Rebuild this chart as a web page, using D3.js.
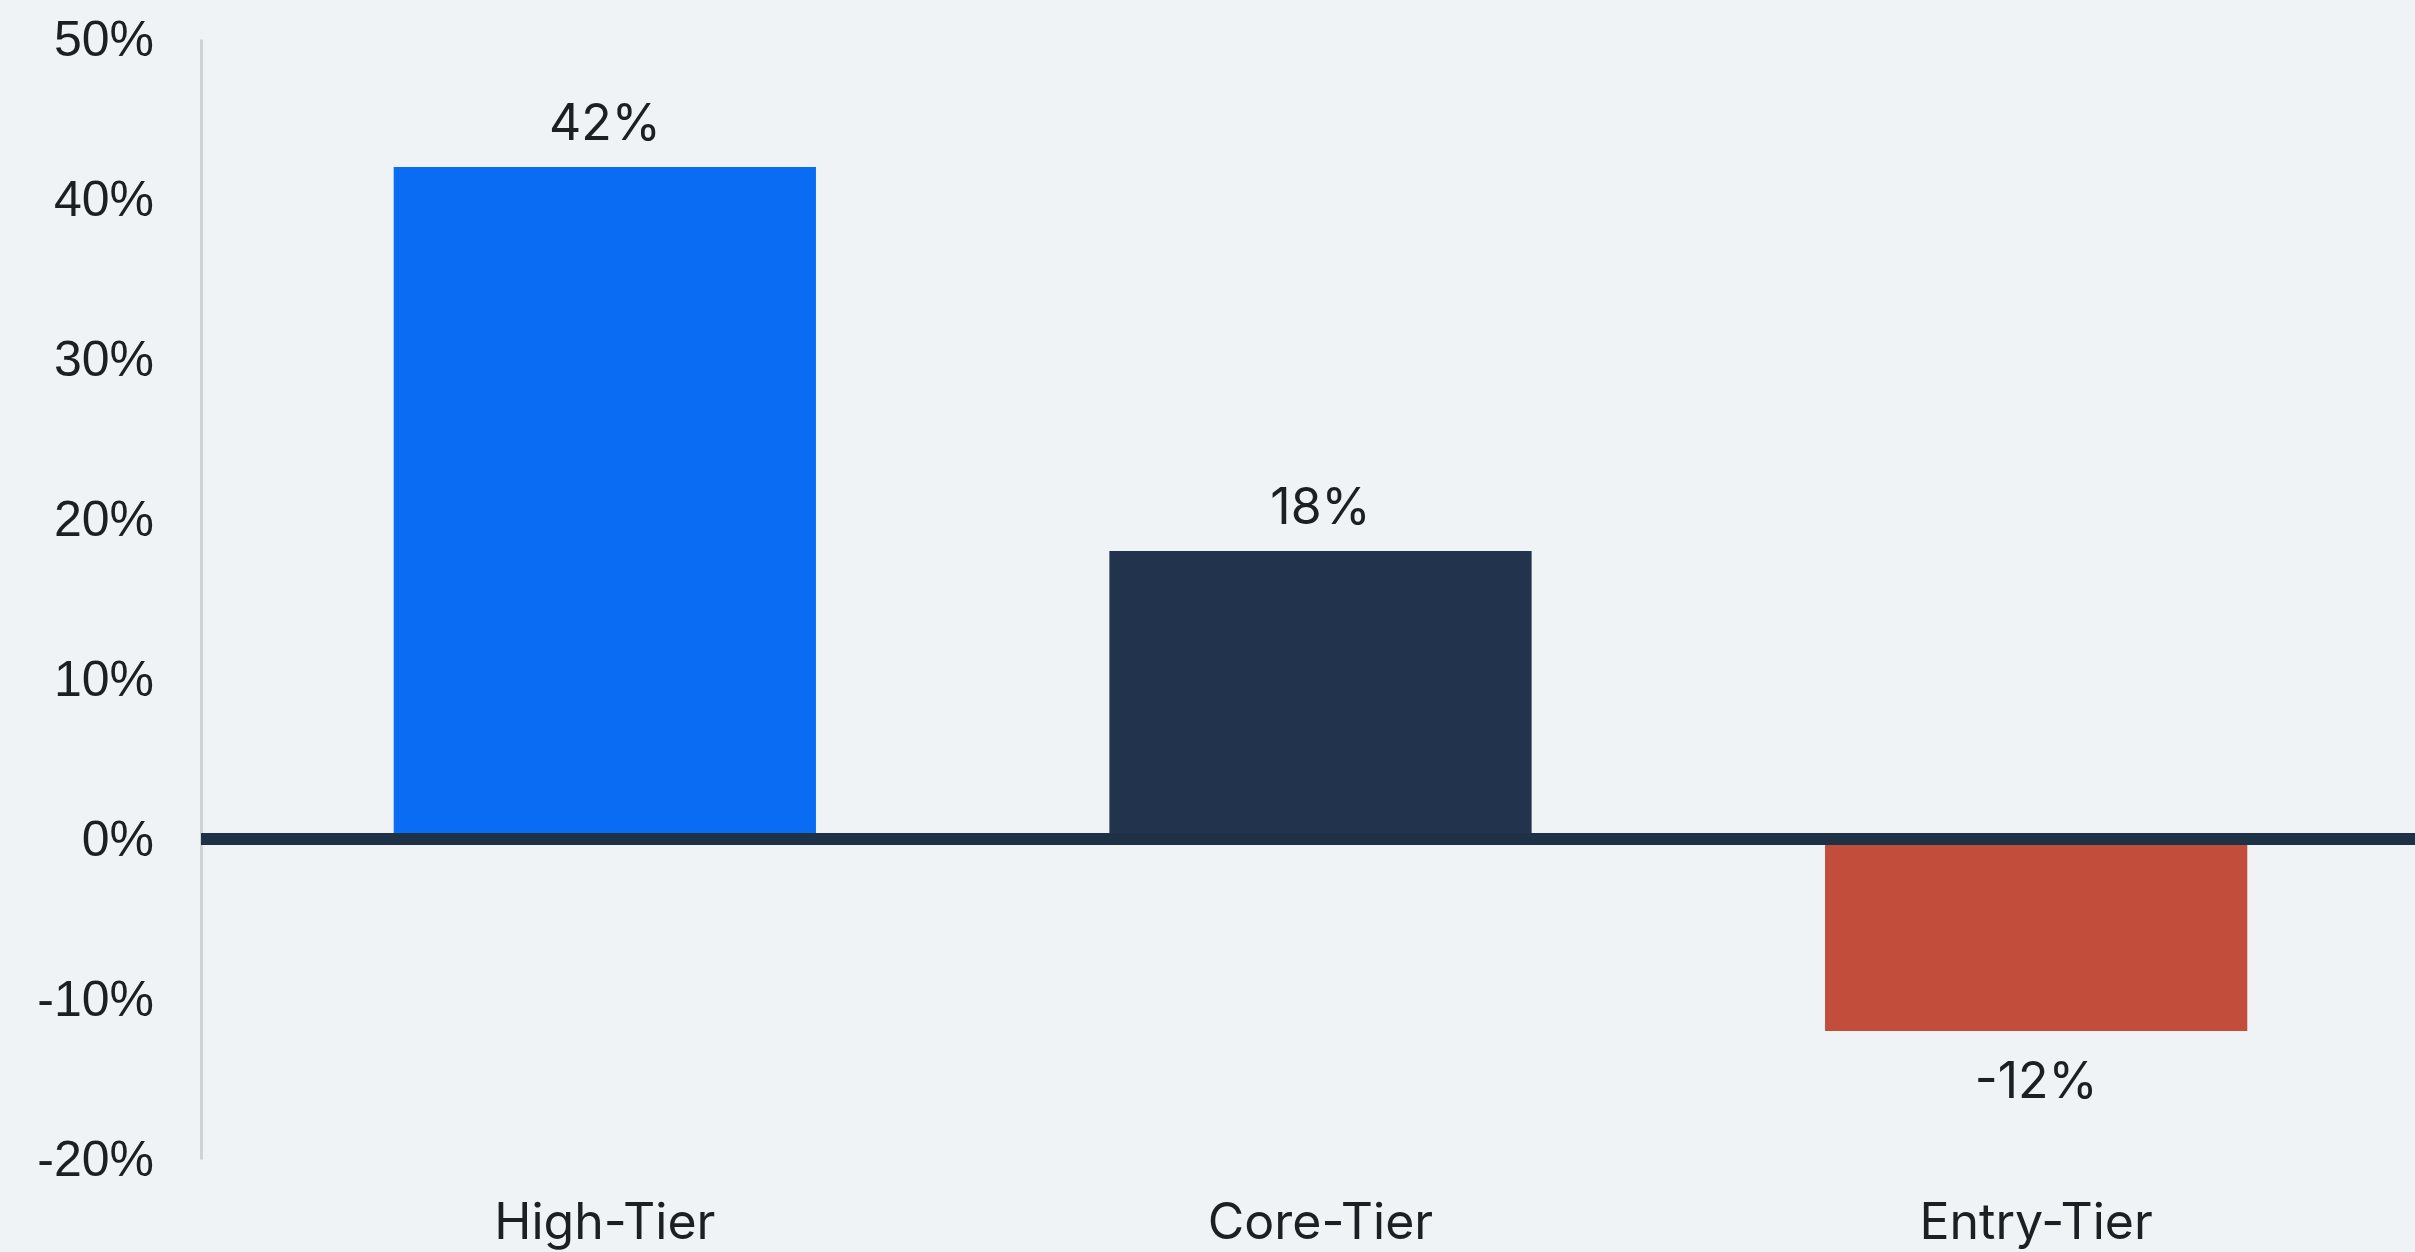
<!DOCTYPE html>
<html>
<head>
<meta charset="utf-8">
<script src="https://cdn.jsdelivr.net/npm/d3@7"></script>
<style>
  html, body { margin: 0; padding: 0; background: #eff3f6; }
  svg { display: block; }
  text { font-family: Inter, "Liberation Sans", Arial, sans-serif; fill: #1c1f24; }
</style>
</head>
<body>
<script>
var tiers = ["High-Tier", "Core-Tier", "Entry-Tier"];
var growth = [42, 18, -12];
var barColors = ["#0a6cf3", "#22344d", "#c14d3a"];
var yTicks = [-20, -10, 0, 10, 20, 30, 40, 50];

var w = 2415,
    h = 1252;

var axisX = 201;

var x = d3.scaleBand()
    .domain(tiers)
    .range([247, 2394])
    .paddingInner(0.41)
    .paddingOuter(0.205);

var y = d3.scaleLinear()
    .domain([-20, 50])
    .range([1159, 39]);

var data = tiers.map(function(t, i) {
    return { name: t, value: growth[i], color: barColors[i] };
});

var svg = d3.select("body").append("svg")
    .attr("width", w)
    .attr("height", h);

svg.append("rect")
    .attr("width", w)
    .attr("height", h)
    .attr("fill", "#eff3f6");

// y axis
var yAxis = svg.append("g")
    .attr("class", "axis axis--y")
    .attr("transform", "translate(" + axisX + ",0)")
    .call(d3.axisLeft(y)
        .tickValues(yTicks)
        .tickSize(0)
        .tickPadding(47)
        .tickFormat(function(d) { return d + "%"; }));

yAxis.select(".domain")
    .attr("stroke", "#cdd3d9")
    .attr("stroke-width", 3);

yAxis.selectAll("text")
    .attr("font-size", 50)
    .attr("fill", "#1c1f24")
    .style("font-family", "inherit");

// bars
svg.selectAll(".bar")
    .data(data)
    .enter().append("rect")
    .attr("class", "bar")
    .attr("x", function(d) { return x(d.name); })
    .attr("y", function(d) { return y(Math.max(0, d.value)); })
    .attr("width", x.bandwidth())
    .attr("height", function(d) { return Math.abs(y(d.value) - y(0)); })
    .attr("fill", function(d) { return d.color; });

// zero line
svg.append("line")
    .attr("x1", axisX)
    .attr("x2", w)
    .attr("y1", y(0))
    .attr("y2", y(0))
    .attr("stroke", "#1f3147")
    .attr("stroke-width", 12);

// value labels
svg.selectAll(".val")
    .data(data)
    .enter().append("text")
    .attr("class", "val")
    .attr("x", function(d) { return x(d.name) + x.bandwidth() / 2; })
    .attr("y", function(d) {
        return d.value >= 0 ? y(d.value) - 27 : y(d.value) + 29 + 38;
    })
    .attr("text-anchor", "middle")
    .attr("font-size", 50)
    .text(function(d) { return d.value + "%"; });

// category labels
svg.selectAll(".cat")
    .data(data)
    .enter().append("text")
    .attr("class", "cat")
    .attr("x", function(d) { return x(d.name) + x.bandwidth() / 2; })
    .attr("y", 1239)
    .attr("text-anchor", "middle")
    .attr("font-size", 50)
    .text(function(d) { return d.name; });
</script>
</body>
</html>
